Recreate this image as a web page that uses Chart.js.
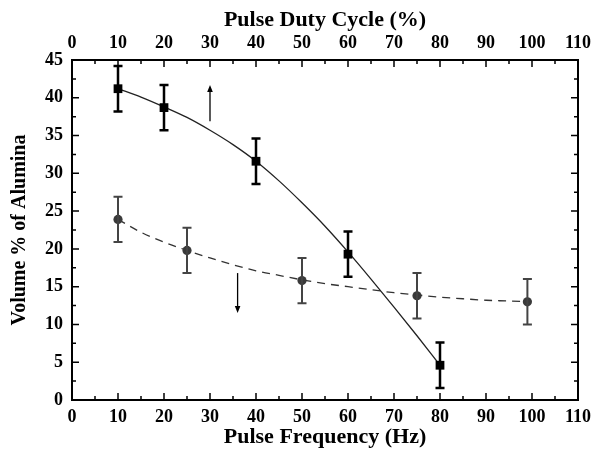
<!DOCTYPE html>
<html>
<head>
<meta charset="utf-8">
<script src="https://cdn.jsdelivr.net/npm/chart.js@4/dist/chart.umd.min.js"></script>
<style>
html,body{margin:0;padding:0;background:#fff;}
#wrap{width:594px;height:452px;position:relative;}
</style>
</head>
<body>
<div id="wrap"><canvas id="c" width="594" height="452"></canvas></div>
<script>
// ---- data ----
const sqFreq = [10, 20, 40, 60, 80];
const sqVol  = [41.2, 38.7, 31.6, 19.3, 4.6];
const sqErr  = [3.0, 3.0, 3.0, 3.0, 3.0];

const ciFreq = [10, 25, 50, 75, 99];
const ciVol  = [23.9, 19.8, 15.8, 13.8, 13.0];
const ciErr  = [3.0, 3.0, 3.0, 3.0, 3.0];

// fitted curves
const fitSolidX = [10, 15, 20, 25, 30, 35, 40, 45, 50, 55, 60, 65, 70, 75, 80];
const fitSolidY = [41.2, 40.1, 38.8, 37.4, 35.7, 33.8, 31.6, 29.0, 26.1, 23.0, 19.6, 16.0, 12.3, 8.5, 4.6];
const fitDashX = [10, 15, 20, 25, 30, 35, 40, 45, 50, 55, 60, 65, 70, 75, 80, 85, 90, 95, 99];
const fitDashY = [23.9, 22.2, 20.9, 19.8, 18.8, 17.9, 17.1, 16.5, 15.9, 15.4, 15.0, 14.6, 14.2, 13.9, 13.6, 13.4, 13.2, 13.1, 13.0];

// arrows (x, from y, to y)
const arrowX    = [30, 36];
const arrowFrom = [36.9, 16.8];
const arrowTo   = [41.7, 11.5];

const xTickLabels = [0, 10, 20, 30, 40, 50, 60, 70, 80, 90, 100, 110];
const yTickLabels = [0, 5, 10, 15, 20, 25, 30, 35, 40, 45];

const FONT = "'Liberation Serif', 'Times New Roman', serif";

function pts(xs, ys){ return xs.map((x,i)=>({x:x, y:ys[i]})); }

const decor = {
  id: 'decor',
  afterDatasetsDraw(chart){
    const ctx = chart.ctx;
    const xs = chart.scales.x, ys = chart.scales.y;
    const a = chart.chartArea;
    ctx.save();
    // error bars
    function bars(fx, fy, fe, color, lw, cap){
      ctx.strokeStyle = color; ctx.lineWidth = lw; ctx.lineCap = 'butt';
      fx.forEach((x,i)=>{
        const px = xs.getPixelForValue(x);
        const top = ys.getPixelForValue(fy[i] + fe[i]);
        const bot = ys.getPixelForValue(fy[i] - fe[i]);
        ctx.beginPath();
        ctx.moveTo(px, top); ctx.lineTo(px, bot);
        ctx.moveTo(px-cap, top); ctx.lineTo(px+cap, top);
        ctx.moveTo(px-cap, bot); ctx.lineTo(px+cap, bot);
        ctx.stroke();
      });
    }
    bars(ciFreq, ciVol, ciErr, '#444', 2, 4.5);
    bars(sqFreq, sqVol, sqErr, '#000', 2.5, 4.5);
    // arrows
    ctx.strokeStyle = '#000'; ctx.fillStyle = '#000'; ctx.lineWidth = 1.3;
    arrowX.forEach((x,i)=>{
      const px = xs.getPixelForValue(x);
      const y0 = ys.getPixelForValue(arrowFrom[i]);
      const y1 = ys.getPixelForValue(arrowTo[i]);
      const dir = y1 < y0 ? -1 : 1;
      ctx.beginPath(); ctx.moveTo(px, y0); ctx.lineTo(px, y1 - dir*5); ctx.stroke();
      ctx.beginPath();
      ctx.moveTo(px, y1);
      ctx.lineTo(px-2.8, y1 - dir*7);
      ctx.lineTo(px+2.8, y1 - dir*7);
      ctx.closePath(); ctx.fill();
    });
    // frame
    ctx.strokeStyle = '#000'; ctx.lineWidth = 2;
    ctx.strokeRect(a.left, a.top, a.right - a.left, a.bottom - a.top);
    // inward ticks
    ctx.lineWidth = 1.5;
    ctx.beginPath();
    xs.ticks.forEach(t=>{
      const px = xs.getPixelForValue(t.value);
      const major = Math.abs(t.value % 10) < 1e-6;
      const L = major ? 7 : 4;
      ctx.moveTo(px, a.bottom); ctx.lineTo(px, a.bottom - L);
      ctx.moveTo(px, a.top); ctx.lineTo(px, a.top + L);
    });
    ys.ticks.forEach(t=>{
      const py = ys.getPixelForValue(t.value);
      const major = Math.abs(t.value % 5) < 1e-6;
      const L = major ? 7 : 4;
      ctx.moveTo(a.left, py); ctx.lineTo(a.left + L, py);
      ctx.moveTo(a.right, py); ctx.lineTo(a.right - L, py);
    });
    ctx.stroke();
    ctx.restore();
  }
};

const tickFont = {family: FONT, size: 18, weight: 'bold'};

function fitX(h){ return s => { s.height = h; s.paddingLeft = 0; s.paddingRight = 0; }; }

new Chart(document.getElementById('c'), {
  type: 'scatter',
  data: {
    datasets: [
      {data: pts(fitSolidX, fitSolidY), showLine: true, borderColor: '#222', borderWidth: 1.3,
       pointRadius: 0, cubicInterpolationMode: 'monotone', fill: false, order: 3},
      {data: pts(fitDashX, fitDashY), showLine: true, borderColor: '#333', borderWidth: 1.3,
       borderDash: [8, 6], pointRadius: 0, cubicInterpolationMode: 'monotone', fill: false, order: 3},
      {data: pts(ciFreq, ciVol), showLine: false, pointStyle: 'circle', pointRadius: 4.6,
       backgroundColor: '#3a3a3a', borderColor: '#3a3a3a', borderWidth: 0, order: 1},
      {data: pts(sqFreq, sqVol), showLine: false, pointStyle: 'rect', pointRadius: 6.2,
       backgroundColor: '#000', borderColor: '#000', borderWidth: 0, order: 0}
    ]
  },
  options: {
    responsive: false,
    animation: false,
    layout: {padding: {left: 0, right: 16, top: 0, bottom: 0}},
    plugins: {legend: {display: false}, tooltip: {enabled: false}},
    scales: {
      x: {
        type: 'linear', position: 'bottom', min: 0, max: 110,
        grid: {display: false, drawTicks: false},
        border: {display: false},
        ticks: {stepSize: 5, autoSkip: false, maxRotation: 0, padding: 7, color: '#000', font: tickFont,
          callback: v => xTickLabels.includes(v) ? String(v) : ''},
        title: {display: true, text: 'Pulse Frequency (Hz)', color: '#000',
          font: {family: FONT, size: 22, weight: 'bold'}, padding: {top: 0, bottom: 1}},
        afterFit: fitX(52)
      },
      x2: {
        type: 'linear', position: 'top', min: 0, max: 110, display: true,
        grid: {display: false, drawTicks: false},
        border: {display: false},
        ticks: {stepSize: 5, autoSkip: false, maxRotation: 0, padding: 6, color: '#000', font: tickFont,
          callback: v => xTickLabels.includes(v) ? String(v) : ''},
        title: {display: true, text: 'Pulse Duty Cycle (%)', color: '#000',
          font: {family: FONT, size: 22, weight: 'bold'}, padding: {top: 7, bottom: 0}},
        afterFit: fitX(60)
      },
      y: {
        type: 'linear', position: 'left', min: 0, max: 45,
        grid: {display: false, drawTicks: false},
        border: {display: false},
        ticks: {stepSize: 2.5, autoSkip: false, padding: 9, color: '#000', font: tickFont,
          callback: v => yTickLabels.includes(v) ? String(v) : ''},
        title: {display: true, text: 'Volume % of Alumina', color: '#000',
          font: {family: FONT, size: 20, weight: 'bold'}, padding: {top: 8, bottom: 0}},
        afterFit: s => { s.width = 72; s.paddingTop = 0; s.paddingBottom = 0; }
      }
    }
  },
  plugins: [decor]
});
</script>
</body>
</html>
